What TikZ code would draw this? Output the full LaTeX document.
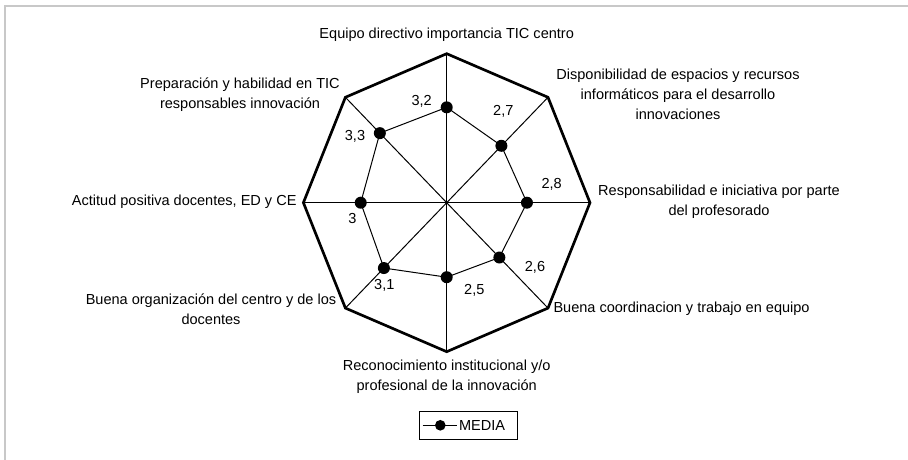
\documentclass[tikz,border=0pt]{standalone}
\usepackage{fontspec}
\setmainfont{Liberation Sans}
\usetikzlibrary{calc}
\tikzset{every picture/.style={line width=0.75pt}}
\tikzset{
  axislabel/.style={inner sep=0.75pt, align=center, font=\fontsize{10.9}{15}\selectfont},
  valuelabel/.style={inner sep=0.75pt, font=\fontsize{10.9}{15}\selectfont},
  meandot/.style={circle, fill=black, inner sep=0pt, minimum size=9pt},
}

\begin{document}
\begin{tikzpicture}[x=0.75pt,y=0.75pt,yscale=-1,xscale=1]
\useasboundingbox (0,0) rectangle (908,460);

%Frame
\draw [color={rgb, 255:red, 200; green, 200; blue, 200 }][line width=1.5] (5,460) -- (5,6) -- (908,6) ;

%Centre and outer vertices
\coordinate (c) at (446.7,202.7);
\coordinate (v1) at (446.7,53.7);
\coordinate (v2) at (548,97.3);
\coordinate (v3) at (590,202.7);
\coordinate (v4) at (548,308.1);
\coordinate (v5) at (446.7,351.7);
\coordinate (v6) at (345.4,308.1);
\coordinate (v7) at (303.4,202.7);
\coordinate (v8) at (345.4,97.3);

%Spokes
\foreach \i in {1,...,8}
  \draw (c) -- (v\i) ;
%Outer octagon
\draw [line width=2] (v1) -- (v2) -- (v3) -- (v4) -- (v5) -- (v6) -- (v7) -- (v8) -- cycle ;

%Mean points (scale 0..5)
\foreach \i/\f in {1/0.64,2/0.54,3/0.56,4/0.52,5/0.5,6/0.62,7/0.6,8/0.66}
  \coordinate (p\i) at ($(c)!\f!(v\i)$);
\draw (p1) -- (p2) -- (p3) -- (p4) -- (p5) -- (p6) -- (p7) -- (p8) -- cycle ;
\foreach \i in {1,...,8}
  \node [meandot] (m\i) at (p\i) {};

% Axis labels
\node [axislabel] (l1) at (446.7,35) {Equipo directivo importancia TIC centro};
\node [axislabel] (l2) at (678,94) {Disponibilidad de espacios y recursos\\informáticos para el desarrollo\\innovaciones};
\node [axislabel] (l3) at (719,202) {Responsabilidad e iniciativa por parte\\del profesorado};
\node [axislabel, anchor=west] (l4) at (552,309) {Buena coordinacion y trabajo en equipo};
\node [axislabel] (l5) at (446.7,377) {Reconocimiento institucional y/o\\profesional de la innovación};
\node [axislabel] (l6) at (211,309) {Buena organización del centro y de los\\docentes};
\node [axislabel, anchor=east] (l7) at (298,202) {Actitud positiva docentes, ED y CE};
\node [axislabel] (l8) at (240,95) {Preparación y habilidad en TIC\\responsables innovación};

% Value labels
\node [valuelabel] (n1) at (421.7,101.7) {3,2};
\node [valuelabel] (n2) at (503.3,111.7) {2,7};
\node [valuelabel] (n3) at (551.7,184) {2,8};
\node [valuelabel] (n4) at (535,267.3) {2,6};
\node [valuelabel] (n5) at (474.3,290.7) {2,5};
\node [valuelabel] (n6) at (384.3,285) {3,1};
\node [valuelabel] (n7) at (352.3,218.3) {3};
\node [valuelabel] (n8) at (355,136.7) {3,3};

% Legend
\node [draw, minimum width=73.8pt, minimum height=21.2pt, inner sep=0pt] (legend) at (468.5,425.8) {};
\coordinate (la) at (422.7,425.3);
\coordinate (lb) at (457.3,425.3);
\draw (la) -- (lb) ;
\node [meandot, minimum size=8pt] (ld) at (440.3,425.3) {};
\node [valuelabel, anchor=west] (lt) at (457.5,425.3) {MEDIA};

\end{tikzpicture}
\end{document}
